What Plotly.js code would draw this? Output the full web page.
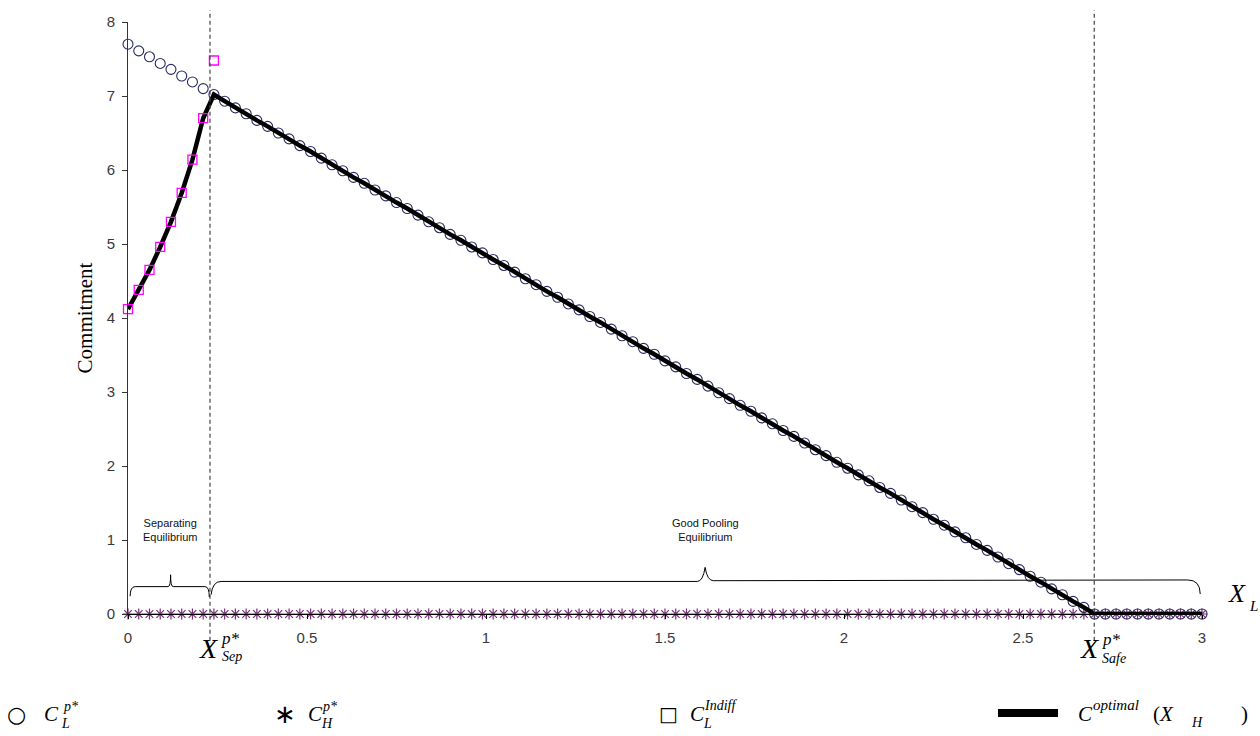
<!DOCTYPE html>
<html>
<head>
<meta charset="utf-8">
<script src="https://cdn.plot.ly/plotly-3.0.1.min.js"></script>
<style>html,body{margin:0;padding:0;background:#fff;}#chart{width:1260px;height:736px;}</style>
</head>
<body>
<div id="chart"></div>
<script>
// ---- data ----
const xL = [0,0.03,0.06,0.09,0.12,0.15,0.18,0.21,0.24,0.27,0.3,0.33,0.36,0.39,0.42,0.45,0.48,0.51,0.54,0.57,0.6,0.63,0.66,0.69,0.72,0.75,0.78,0.81,0.84,0.87,0.9,0.93,0.96,0.99,1.02,1.05,1.08,1.11,1.14,1.17,1.2,1.23,1.26,1.29,1.32,1.35,1.38,1.41,1.44,1.47,1.5,1.53,1.56,1.59,1.62,1.65,1.68,1.71,1.74,1.77,1.8,1.83,1.86,1.89,1.92,1.95,1.98,2.01,2.04,2.07,2.1,2.13,2.16,2.19,2.22,2.25,2.28,2.31,2.34,2.37,2.4,2.43,2.46,2.49,2.52,2.55,2.58,2.61,2.64,2.67,2.7,2.73,2.76,2.79,2.82,2.85,2.88,2.91,2.94,2.97,3];

// C_L^{p*} (open circles)
const cLp = [7.70,7.61,7.53,7.44,7.36,7.27,7.19,7.10,7.02,6.93,6.84,6.76,6.67,6.59,6.50,6.42,6.33,6.25,6.16,6.07,5.99,5.90,5.82,5.73,5.65,5.56,5.48,5.39,5.30,5.22,5.13,5.05,4.96,4.88,4.79,4.71,4.62,4.53,4.45,4.36,4.28,4.19,4.11,4.02,3.94,3.85,3.76,3.68,3.59,3.51,3.42,3.34,3.25,3.17,3.08,2.99,2.91,2.82,2.74,2.65,2.57,2.48,2.40,2.31,2.22,2.14,2.05,1.97,1.88,1.80,1.71,1.63,1.54,1.45,1.37,1.28,1.20,1.11,1.03,0.94,0.86,0.77,0.68,0.60,0.51,0.43,0.34,0.26,0.17,0.09,0,0,0,0,0,0,0,0,0,0,0];

// C_H^{p*} (asterisks)
const cHp = [0,0,0,0,0,0,0,0,0,0,0,0,0,0,0,0,0,0,0,0,0,0,0,0,0,0,0,0,0,0,0,0,0,0,0,0,0,0,0,0,0,0,0,0,0,0,0,0,0,0,0,0,0,0,0,0,0,0,0,0,0,0,0,0,0,0,0,0,0,0,0,0,0,0,0,0,0,0,0,0,0,0,0,0,0,0,0,0,0,0,0,0,0,0,0,0,0,0,0,0,0];

// C_L^{Indiff} (open squares)
const xIndiff = [0,0.03,0.06,0.09,0.12,0.15,0.18,0.21,0.24];
const cIndiff = [4.12,4.38,4.65,4.96,5.30,5.69,6.14,6.70,7.48];

// C^{optimal}(X_H) (thick line)
const cOpt = [4.12,4.38,4.65,4.96,5.30,5.69,6.14,6.70,7.02,6.93,6.84,6.76,6.67,6.59,6.50,6.42,6.33,6.25,6.16,6.07,5.99,5.90,5.82,5.73,5.65,5.56,5.48,5.39,5.30,5.22,5.13,5.05,4.96,4.88,4.79,4.71,4.62,4.53,4.45,4.36,4.28,4.19,4.11,4.02,3.94,3.85,3.76,3.68,3.59,3.51,3.42,3.34,3.25,3.17,3.08,2.99,2.91,2.82,2.74,2.65,2.57,2.48,2.40,2.31,2.22,2.14,2.05,1.97,1.88,1.80,1.71,1.63,1.54,1.45,1.37,1.28,1.20,1.11,1.03,0.94,0.86,0.77,0.68,0.60,0.51,0.43,0.34,0.26,0.17,0.09,0,0,0,0,0,0,0,0,0,0,0];

const xTickVals = [0,0.5,1,1.5,2,2.5,3];
const xTickText = ["0","0.5","1","1.5","2","2.5","3"];
const yTickVals = [0,1,2,3,4,5,6,7,8];

const xSep = 0.229;
const xSafe = 2.699;

// ---- layout helpers (pixel -> paper) ----
const L = 128, T = 22, W = 1074, H = 592;
const px = p => (p - L) / W;
const py = p => (T + H - p) / H;
const serif = "Liberation Serif, Times New Roman, serif";
const sans = "Liberation Sans, Arial, sans-serif";

function ann(text, x, y, size, opts) {
  return Object.assign({
    text: text, xref: 'paper', yref: 'paper', x: px(x), y: py(y),
    xanchor: 'center', yanchor: 'middle', showarrow: false, borderpad: 0,
    font: {family: serif, size: size, color: '#000'}
  }, opts || {});
}

const traces = [
  {x: xL, y: cHp, type: 'scatter', mode: 'markers', name: 'C_H', cliponaxis: false,
   marker: {symbol: 'asterisk-open', size: 9, color: '#7a2f7a', line: {width: 1.2, color: '#7a2f7a'}}},
  {x: xL, y: cLp, type: 'scatter', mode: 'markers', name: 'C_L', cliponaxis: false,
   marker: {symbol: 'circle-open', size: 10, color: '#2b2b66', line: {width: 1.1, color: '#2b2b66'}}},
  {x: xL, y: cOpt, type: 'scatter', mode: 'lines', name: 'C_opt', cliponaxis: false,
   line: {color: '#000', width: 4.5}},
  {x: xIndiff, y: cIndiff, type: 'scatter', mode: 'markers', name: 'C_indiff', cliponaxis: false,
   marker: {symbol: 'square-open', size: 9, color: '#ff00ff', line: {width: 1.3, color: '#ff00ff'}}}
];

const shapes = [
  {type: 'line', xref: 'x', yref: 'paper', x0: xSep, x1: xSep, y0: -0.045, y1: 1.02,
   line: {color: '#444', width: 1.2, dash: '4px,3px'}},
  {type: 'line', xref: 'x', yref: 'paper', x0: xSafe, x1: xSafe, y0: -0.045, y1: 1.02,
   line: {color: '#444', width: 1.2, dash: '4px,3px'}},
  // separating-equilibrium brace
  {type: 'path', xref: 'x', yref: 'y', line: {color: '#000', width: 1},
   path: 'M 0.006,0.24 Q 0.006,0.37 0.02,0.37 L 0.112,0.37 Q 0.119,0.37 0.119,0.53 Q 0.119,0.37 0.126,0.37 L 0.215,0.37 Q 0.227,0.37 0.227,0.23'},
  // good-pooling brace
  {type: 'path', xref: 'x', yref: 'y', line: {color: '#000', width: 1},
   path: 'M 0.232,0.26 Q 0.236,0.44 0.26,0.44 L 1.59,0.44 Q 1.606,0.44 1.612,0.63 Q 1.618,0.45 1.635,0.45 L 2.96,0.46 Q 2.995,0.46 2.995,0.27'},
  // legend bar for C optimal
  {type: 'rect', xref: 'paper', yref: 'paper', x0: px(998), x1: px(1058), y0: py(717), y1: py(709),
   fillcolor: '#000', line: {width: 0}}
];

const annotations = [
  ann('Separating<br>Equilibrium', 170, 530, 11, {font: {family: sans, size: 11, color: '#111'}}),
  ann('Good Pooling<br>Equilibrium', 705, 530, 11, {font: {family: sans, size: 11, color: '#111'}}),
  // X_L
  ann('<i>X</i>', 1237, 593, 26),
  ann('<i>L</i>', 1253, 606, 15),
  // X_Sep^{p*}
  ann('<i>X</i>', 208, 648, 28),
  ann('<i>p*</i>', 230, 638, 17),
  ann('<i>Sep</i>', 232, 656, 14),
  // X_Safe^{p*}
  ann('<i>X</i>', 1089, 648, 28),
  ann('<i>p*</i>', 1111, 639, 17),
  ann('<i>Safe</i>', 1114, 658, 14),
  // legend row
  ann('○', 16, 714, 26, {font: {family: 'DejaVu Sans', size: 22, color: '#000'}}),
  ann('<i>C</i>', 51, 714, 21),
  ann('<i>p*</i>', 62, 706, 14, {xanchor: 'left'}),
  ann('<i>L</i>', 60, 723, 14, {xanchor: 'left'}),
  ann('∗', 285, 714, 24, {font: {family: 'DejaVu Sans', size: 26, color: '#000'}}),
  ann('<i>C</i>', 315, 714, 21),
  ann('<i>p*</i>', 321, 706, 14, {xanchor: 'left'}),
  ann('<i>H</i>', 320, 723, 14, {xanchor: 'left'}),
  ann('□', 668, 714, 22, {font: {family: 'DejaVu Sans', size: 20, color: '#000'}}),
  ann('<i>C</i>', 697, 714, 21),
  ann('<i>Indiff</i>', 703, 705, 14, {xanchor: 'left'}),
  ann('<i>L</i>', 702, 723, 14, {xanchor: 'left'}),
  ann('<i>C</i>', 1085, 714, 21),
  ann('<i>optimal</i>', 1092, 705, 15, {xanchor: 'left'}),
  ann('(<i>X</i>', 1152, 714, 21, {xanchor: 'left'}),
  ann('<i>H</i>', 1190, 722, 14, {xanchor: 'left'}),
  ann(')', 1240, 714, 21, {xanchor: 'left'})
];

const layout = {
  width: 1260, height: 736,
  margin: {l: L, r: 1260 - L - W, t: T, b: 736 - T - H, pad: 0},
  paper_bgcolor: '#fff', plot_bgcolor: '#fff',
  showlegend: false,
  xaxis: {range: [0, 3], tickvals: xTickVals, ticktext: xTickText, showgrid: false, zeroline: false,
          showline: true, linecolor: '#000', linewidth: 1, ticks: 'outside', ticklen: 4, tickcolor: '#000',
          tickfont: {family: sans, size: 15, color: '#3a3a3a'}, ticklabelstandoff: 6, fixedrange: true},
  yaxis: {range: [0, 8], tickvals: yTickVals, showgrid: false, zeroline: false,
          showline: true, linecolor: '#333', linewidth: 1, ticks: 'outside', ticklen: 5, tickcolor: '#333',
          tickfont: {family: sans, size: 15, color: '#3a3a3a'}, ticklabelstandoff: 4,
          title: {text: 'Commitment', font: {family: serif, size: 21, color: '#000'}, standoff: 8}, fixedrange: true},
  shapes: shapes,
  annotations: annotations
};

Plotly.newPlot('chart', traces, layout, {displayModeBar: false, staticPlot: true});
</script>
</body>
</html>
